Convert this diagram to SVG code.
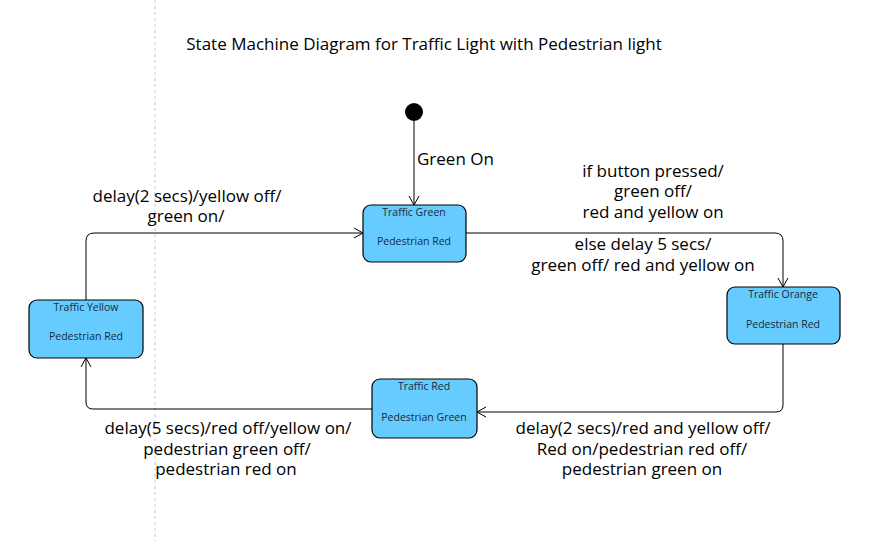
<svg xmlns="http://www.w3.org/2000/svg" width="874" height="541" viewBox="0 0 874 541">
<defs>
<style>
.state{fill:#66ccff;stroke:#000;stroke-width:1.2}
.sname{font-family:"Open Sans","Noto Sans",sans-serif;font-size:10.5px;fill:#1a2a3a;text-anchor:middle}
.lbl{font-family:"Open Sans","Noto Sans",sans-serif;font-size:17px;fill:#000;text-anchor:middle}
.edge{fill:none;stroke:#000;stroke-width:1}
</style>
<marker id="arr" markerWidth="12" markerHeight="12" refX="10" refY="6" orient="auto" markerUnits="userSpaceOnUse">
<path d="M1,1 L10,6 L1,11" fill="none" stroke="#000" stroke-width="1"/>
</marker>
</defs>
<rect width="874" height="541" fill="#fff"/>
<line x1="155" y1="0" x2="155" y2="541" stroke="#c8c8c8" stroke-width="1" stroke-dasharray="3,3"/>
<text x="424" y="50" class="lbl">State Machine Diagram for Traffic Light with Pedestrian light</text>

<g id="connectors">
<path class="edge" d="M414,121 L414,205" marker-end="url(#arr)"/>
<path class="edge" d="M466,233 L775,233 Q783,233 783,241 L783,287" marker-end="url(#arr)"/>
<path class="edge" d="M783,344 L783,405 Q783,412 776,412 L477,412" marker-end="url(#arr)"/>
<path class="edge" d="M372,409 L93,409 Q86,409 86,402 L86,358" marker-end="url(#arr)"/>
<path class="edge" d="M86,300 L86,241 Q86,233 94,233 L363,233" marker-end="url(#arr)"/>
<text x="417" y="165" class="lbl" style="text-anchor:start">Green On</text>
<text class="lbl"><tspan x="653" y="177">if button pressed/</tspan><tspan x="653" y="197">green off/</tspan><tspan x="653" y="218">red and yellow on</tspan></text>
<text class="lbl"><tspan x="643" y="250">else delay 5 secs/</tspan><tspan x="643" y="271">green off/ red and yellow on</tspan></text>
<text class="lbl"><tspan x="187" y="202">delay(2 secs)/yellow off/</tspan><tspan x="186" y="222">green on/</tspan></text>
<text class="lbl"><tspan x="228" y="434">delay(5 secs)/red off/yellow on/</tspan><tspan x="227" y="455">pedestrian green off/</tspan><tspan x="226" y="475">pedestrian red on</tspan></text>
<text class="lbl"><tspan x="643" y="434">delay(2 secs)/red and yellow off/</tspan><tspan x="642" y="455">Red on/pedestrian red off/</tspan><tspan x="642" y="475">pedestrian green on</tspan></text>
</g>

<g id="initial">
<circle cx="414" cy="112" r="9" fill="#000"/>
</g>

<g id="traffic-green">
<rect class="state" x="363" y="205" width="103" height="57" rx="8"/>
<text class="sname" x="414" y="216">Traffic Green</text>
<text class="sname" x="414" y="245">Pedestrian Red</text>
</g>

<g id="traffic-orange">
<rect class="state" x="727" y="287" width="113" height="57" rx="8"/>
<text class="sname" x="783" y="298">Traffic Orange</text>
<text class="sname" x="783" y="328">Pedestrian Red</text>
</g>

<g id="traffic-red">
<rect class="state" x="372" y="379" width="105" height="59" rx="8"/>
<text class="sname" x="424" y="390">Traffic Red</text>
<text class="sname" x="424" y="421">Pedestrian Green</text>
</g>

<g id="traffic-yellow">
<rect class="state" x="29" y="300" width="114" height="58" rx="8"/>
<text class="sname" x="86" y="311">Traffic Yellow</text>
<text class="sname" x="86" y="340">Pedestrian Red</text>
</g>
</svg>
